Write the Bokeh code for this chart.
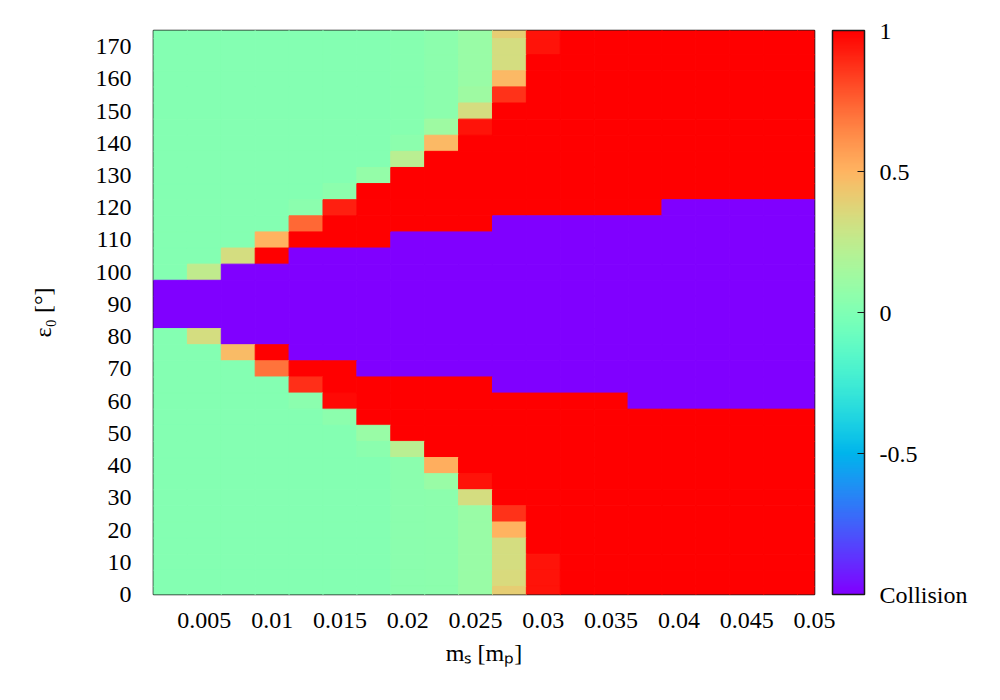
import math
from bokeh.plotting import figure
from bokeh.models import ColumnDataSource, LinearColorMapper, ColorBar, FixedTicker
from bokeh.embed import file_html
from bokeh.resources import INLINE

# ---- data -------------------------------------------------------------
x_centers = [0.0025, 0.005, 0.0075, 0.01, 0.0125, 0.015, 0.0175, 0.02, 0.0225, 0.025,
             0.0275, 0.03, 0.0325, 0.035, 0.0375, 0.04, 0.0425, 0.045, 0.0475, 0.05]
y_centers = [175, 170, 165, 160, 155, 150, 145, 140, 135, 130, 125, 120,
             115, 110, 105, 100, 95, 90, 85, 80, 75, 70, 65, 60,
             55, 50, 45, 40, 35, 30, 25, 20, 15, 10, 5, 0]
z_rows = [
    [0.02, 0.02, 0.02, 0.02, 0.02, 0.02, 0.02, 0.03, 0.05, 0.10, 0.40, 0.95, 1, 1, 1, 1, 1, 1, 1, 1],
    [0.02, 0.02, 0.02, 0.02, 0.02, 0.02, 0.02, 0.03, 0.05, 0.10, 0.33, 0.95, 1, 1, 1, 1, 1, 1, 1, 1],
    [0.02, 0.02, 0.02, 0.02, 0.02, 0.02, 0.02, 0.03, 0.05, 0.10, 0.33, 1, 1, 1, 1, 1, 1, 1, 1, 1],
    [0.02, 0.02, 0.02, 0.02, 0.02, 0.02, 0.02, 0.03, 0.05, 0.10, 0.48, 1, 1, 1, 1, 1, 1, 1, 1, 1],
    [0.02, 0.02, 0.02, 0.02, 0.02, 0.02, 0.02, 0.03, 0.05, 0.12, 0.87, 1, 1, 1, 1, 1, 1, 1, 1, 1],
    [0.02, 0.02, 0.02, 0.02, 0.02, 0.02, 0.02, 0.03, 0.05, 0.33, 1, 1, 1, 1, 1, 1, 1, 1, 1, 1],
    [0.02, 0.02, 0.02, 0.02, 0.02, 0.02, 0.02, 0.03, 0.12, 0.95, 1, 1, 1, 1, 1, 1, 1, 1, 1, 1],
    [0.02, 0.02, 0.02, 0.02, 0.02, 0.02, 0.02, 0.05, 0.48, 1, 1, 1, 1, 1, 1, 1, 1, 1, 1, 1],
    [0.02, 0.02, 0.02, 0.02, 0.02, 0.02, 0.02, 0.22, 1, 1, 1, 1, 1, 1, 1, 1, 1, 1, 1, 1],
    [0.02, 0.02, 0.02, 0.02, 0.02, 0.02, 0.08, 1, 1, 1, 1, 1, 1, 1, 1, 1, 1, 1, 1, 1],
    [0.02, 0.02, 0.02, 0.02, 0.02, 0.05, 1, 1, 1, 1, 1, 1, 1, 1, 1, 1, 1, 1, 1, 1],
    [0.02, 0.02, 0.02, 0.02, 0.04, 0.92, 1, 1, 1, 1, 1, 1, 1, 1, 1, -1, -1, -1, -1, -1],
    [0.02, 0.02, 0.02, 0.02, 0.73, 1, 1, 1, 1, 1, -1, -1, -1, -1, -1, -1, -1, -1, -1, -1],
    [0.02, 0.02, 0.02, 0.50, 1, 1, 1, -1, -1, -1, -1, -1, -1, -1, -1, -1, -1, -1, -1, -1],
    [0.02, 0.02, 0.33, 1, -1, -1, -1, -1, -1, -1, -1, -1, -1, -1, -1, -1, -1, -1, -1, -1],
    [0.02, 0.25, -1, -1, -1, -1, -1, -1, -1, -1, -1, -1, -1, -1, -1, -1, -1, -1, -1, -1],
    [-1, -1, -1, -1, -1, -1, -1, -1, -1, -1, -1, -1, -1, -1, -1, -1, -1, -1, -1, -1],
    [-1, -1, -1, -1, -1, -1, -1, -1, -1, -1, -1, -1, -1, -1, -1, -1, -1, -1, -1, -1],
    [-1, -1, -1, -1, -1, -1, -1, -1, -1, -1, -1, -1, -1, -1, -1, -1, -1, -1, -1, -1],
    [0.02, 0.33, -1, -1, -1, -1, -1, -1, -1, -1, -1, -1, -1, -1, -1, -1, -1, -1, -1, -1],
    [0.02, 0.02, 0.47, 1, -1, -1, -1, -1, -1, -1, -1, -1, -1, -1, -1, -1, -1, -1, -1, -1],
    [0.02, 0.02, 0.02, 0.70, 1, 1, -1, -1, -1, -1, -1, -1, -1, -1, -1, -1, -1, -1, -1, -1],
    [0.02, 0.02, 0.02, 0.02, 0.88, 1, 1, 1, 1, 1, -1, -1, -1, -1, -1, -1, -1, -1, -1, -1],
    [0.02, 0.02, 0.02, 0.02, 0.04, 0.97, 1, 1, 1, 1, 1, 1, 1, 1, -1, -1, -1, -1, -1, -1],
    [0.02, 0.02, 0.02, 0.02, 0.02, 0.05, 1, 1, 1, 1, 1, 1, 1, 1, 1, 1, 1, 1, 1, 1],
    [0.02, 0.02, 0.02, 0.02, 0.02, 0.02, 0.10, 1, 1, 1, 1, 1, 1, 1, 1, 1, 1, 1, 1, 1],
    [0.02, 0.02, 0.02, 0.02, 0.02, 0.02, 0.04, 0.22, 1, 1, 1, 1, 1, 1, 1, 1, 1, 1, 1, 1],
    [0.02, 0.02, 0.02, 0.02, 0.02, 0.02, 0.02, 0.04, 0.52, 1, 1, 1, 1, 1, 1, 1, 1, 1, 1, 1],
    [0.02, 0.02, 0.02, 0.02, 0.02, 0.02, 0.02, 0.04, 0.10, 0.95, 1, 1, 1, 1, 1, 1, 1, 1, 1, 1],
    [0.02, 0.02, 0.02, 0.02, 0.02, 0.02, 0.02, 0.04, 0.05, 0.33, 1, 1, 1, 1, 1, 1, 1, 1, 1, 1],
    [0.02, 0.02, 0.02, 0.02, 0.02, 0.02, 0.02, 0.04, 0.05, 0.10, 0.87, 1, 1, 1, 1, 1, 1, 1, 1, 1],
    [0.02, 0.02, 0.02, 0.02, 0.02, 0.02, 0.02, 0.04, 0.05, 0.10, 0.50, 1, 1, 1, 1, 1, 1, 1, 1, 1],
    [0.02, 0.02, 0.02, 0.02, 0.02, 0.02, 0.02, 0.04, 0.05, 0.10, 0.33, 1, 1, 1, 1, 1, 1, 1, 1, 1],
    [0.02, 0.02, 0.02, 0.02, 0.02, 0.02, 0.02, 0.04, 0.05, 0.10, 0.33, 0.95, 1, 1, 1, 1, 1, 1, 1, 1],
    [0.02, 0.02, 0.02, 0.02, 0.02, 0.02, 0.02, 0.04, 0.05, 0.10, 0.35, 0.95, 1, 1, 1, 1, 1, 1, 1, 1],
    [0.02, 0.02, 0.02, 0.02, 0.02, 0.02, 0.02, 0.04, 0.05, 0.10, 0.40, 0.95, 1, 1, 1, 1, 1, 1, 1, 1],
]

x_ticks = [0.005, 0.01, 0.015, 0.02, 0.025, 0.03, 0.035, 0.04, 0.045, 0.05]
x_tick_labels = ["0.005", "0.01", "0.015", "0.02", "0.025", "0.03", "0.035", "0.04", "0.045", "0.05"]
y_ticks = [0, 10, 20, 30, 40, 50, 60, 70, 80, 90, 100, 110, 120, 130, 140, 150, 160, 170]
cb_ticks = [-1, -0.5, 0, 0.5, 1]
cb_tick_labels = ["Collision", "-0.5", "0", "0.5", "1"]

# ---- palette (gnuplot rgbformulae 33,13,10 "rainbow") -------------------
def _rgb(t):
    r = min(1.0, abs(2 * t - 0.5))
    g = max(0.0, math.sin(math.pi * t))
    b = max(0.0, math.cos(math.pi * t / 2))
    return "#%02x%02x%02x" % (round(r * 255), round(g * 255), round(b * 255))

palette = [_rgb(i / 255) for i in range(256)]

xs, ys, zs = [], [], []
for yv, row in zip(y_centers, z_rows):
    for xv, zv in zip(x_centers, row):
        xs.append(xv)
        ys.append(yv)
        zs.append(zv)
src = ColumnDataSource(dict(x=xs, y=ys, z=zs))
mapper = LinearColorMapper(palette=palette, low=-1, high=1)

FONT = "Liberation Serif"
FS = "24px"

p = figure(width=992, height=692, x_range=(0.00125, 0.05), y_range=(0, 175),
           output_backend="svg", toolbar_location=None,
           min_border_left=153, min_border_right=178, min_border_top=30, min_border_bottom=98)
p.background_fill_color = "white"
p.border_fill_color = "white"
p.grid.visible = False
p.outline_line_color = "#1a1a1a"
p.outline_line_width = 1.6

p.rect(x="x", y="y", width=0.0025, height=5, source=src,
       fill_color={"field": "z", "transform": mapper},
       line_color={"field": "z", "transform": mapper}, line_width=1.0)

for ax in (p.xaxis[0], p.yaxis[0]):
    ax.major_tick_line_color = None
    ax.minor_tick_line_color = None
    ax.axis_line_color = None
    ax.major_label_text_font = FONT
    ax.major_label_text_font_size = FS
    ax.major_label_text_color = "black"
    ax.axis_label_text_font = FONT
    ax.axis_label_text_font_size = FS
    ax.axis_label_text_font_style = "normal"
    ax.axis_label_text_color = "black"

p.xaxis.ticker = FixedTicker(ticks=x_ticks)
p.xaxis.major_label_overrides = dict(zip(x_ticks, x_tick_labels))
p.xaxis.major_label_standoff = 12
p.xaxis.axis_label = "mₛ [mₚ]"
p.xaxis.axis_label_standoff = 9

p.yaxis.ticker = FixedTicker(ticks=y_ticks)
p.yaxis.major_label_standoff = 16
p.yaxis.axis_label = "ε₀ [°]"
p.yaxis.axis_label_standoff = 37

cb = ColorBar(color_mapper=mapper, ticker=FixedTicker(ticks=cb_ticks),
              major_label_overrides=dict(zip(cb_ticks, cb_tick_labels)),
              width=32, height=564, padding=0, location=(679, 0),
              background_fill_alpha=0, border_line_color=None,
              bar_line_color="#1a1a1a", bar_line_width=1.5,
              major_tick_line_color="#1a1a1a", major_tick_in=7, major_tick_out=0,
              minor_tick_line_color=None, label_standoff=15,
              major_label_text_font=FONT, major_label_text_font_size=FS,
              major_label_text_color="black")
p.add_layout(cb, "center")

open("out.html", "w").write(file_html(p, INLINE))
